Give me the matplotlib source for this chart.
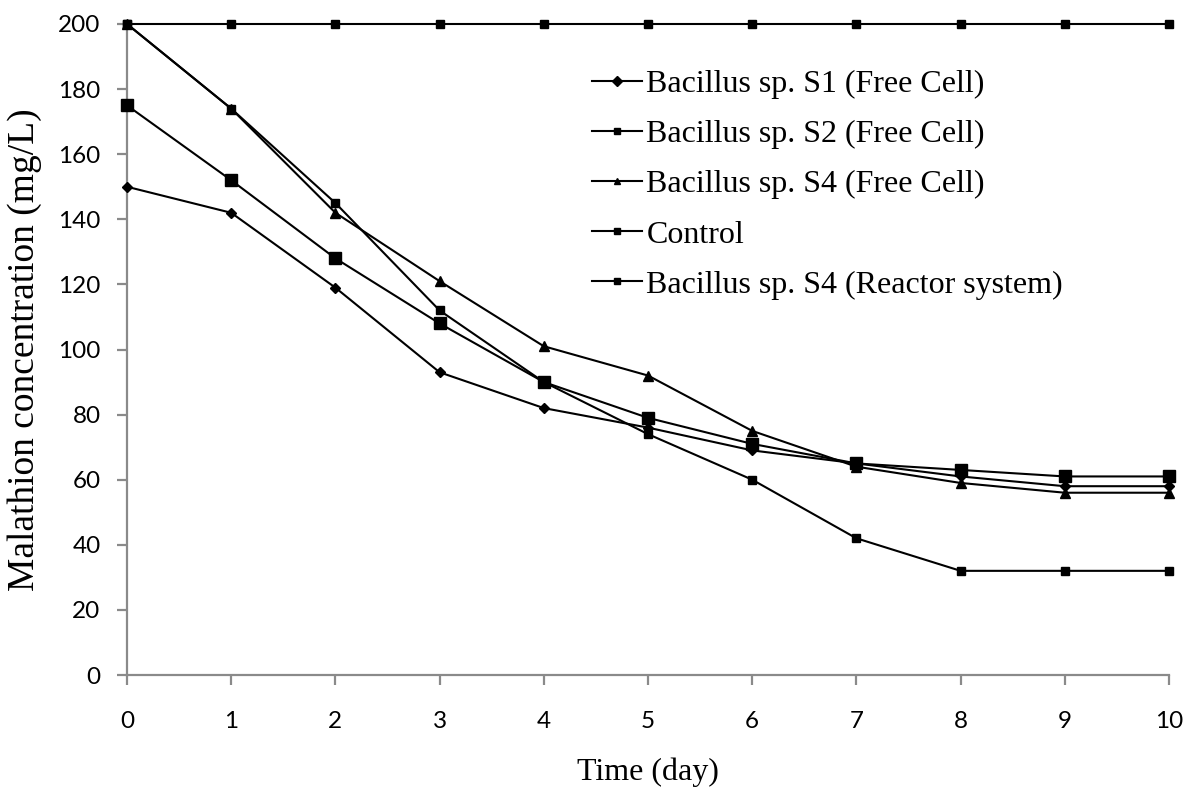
import matplotlib
matplotlib.use("Agg")
import matplotlib.pyplot as plt
from matplotlib import font_manager

# malathion degradation over 10 days
days = [0, 1, 2, 3, 4, 5, 6, 7, 8, 9, 10]
s1_free = [150, 142, 119, 93, 82, 76, 69, 65, 61, 58, 58]
s2_free = [175, 152, 128, 108, 90, 79, 71, 65, 63, 61, 61]
s4_free = [200, 174, 142, 121, 101, 92, 75, 64, 59, 56, 56]
control = [200, 200, 200, 200, 200, 200, 200, 200, 200, 200, 200]
s4_reactor = [200, 174, 145, 112, 90, 74, 60, 42, 32, 32, 32]

labels = ["Bacillus sp. S1 (Free Cell)", "Bacillus sp. S2 (Free Cell)",
          "Bacillus sp. S4 (Free Cell)", "Control",
          "Bacillus sp. S4 (Reactor system)"]

names = {f.name for f in font_manager.fontManager.ttflist}
if "Liberation Sans Narrow" in names:
    tick_font, tick_size = "Liberation Sans Narrow", 18.5
else:
    tick_font, tick_size = "Lato", 17.5
serif = "Liberation Serif"

fig = plt.figure(figsize=(11.86, 7.95), dpi=100)
ax = fig.add_axes([127 / 1186, 1 - 675 / 795, (1169 - 127) / 1186, (675 - 24) / 795])

lw = 1.5
ax.plot(days, s1_free, color="black", lw=lw, marker="D", ms=5, label=labels[0])
ax.plot(days, s2_free, color="black", lw=lw, marker="s", ms=8.5, label=labels[1])
ax.plot(days, s4_free, color="black", lw=lw, marker="^", ms=7, label=labels[2])
ax.plot(days, control, color="black", lw=lw, marker="s", ms=6, label=labels[3])
ax.plot(days, s4_reactor, color="black", lw=lw, marker="s", ms=6, label=labels[4])
for ln in ax.lines:
    ln.set_clip_on(False)

ax.set_xlim(0, 10)
ax.set_ylim(0, 200)
ax.set_xticks(days)
ax.set_yticks(range(0, 201, 20))

for side in ["top", "right"]:
    ax.spines[side].set_visible(False)
for side in ["left", "bottom"]:
    ax.spines[side].set_color("#8a8a8a")
    ax.spines[side].set_linewidth(1.6)
    ax.spines[side].set_zorder(0)
ax.tick_params(colors="#8a8a8a", length=7, width=1.6, labelcolor="black",
               labelsize=tick_size)
ax.tick_params(axis="x", pad=19)
ax.tick_params(axis="y", pad=12)
for t in ax.get_xticklabels() + ax.get_yticklabels():
    t.set_family(tick_font)

ax.set_xlabel("Time (day)", family=serif, fontsize=23)
ax.set_ylabel("Malathion concentration (mg/L)", family=serif, fontsize=27)
ax.xaxis.set_label_coords(0.5, -0.127)
ax.yaxis.set_label_coords(-0.082, 0.5)

leg = ax.legend(loc="upper left", bbox_to_anchor=(579 / 1186, 1 - 57 / 795),
                bbox_transform=fig.transFigure, frameon=False,
                prop={"family": serif, "size": 23},
                handlelength=1.56, handletextpad=0.15, labelspacing=0.65,
                borderaxespad=0)
for h in leg.legend_handles:
    h.set_markersize(5)

fig.savefig("out.png", dpi=100)
